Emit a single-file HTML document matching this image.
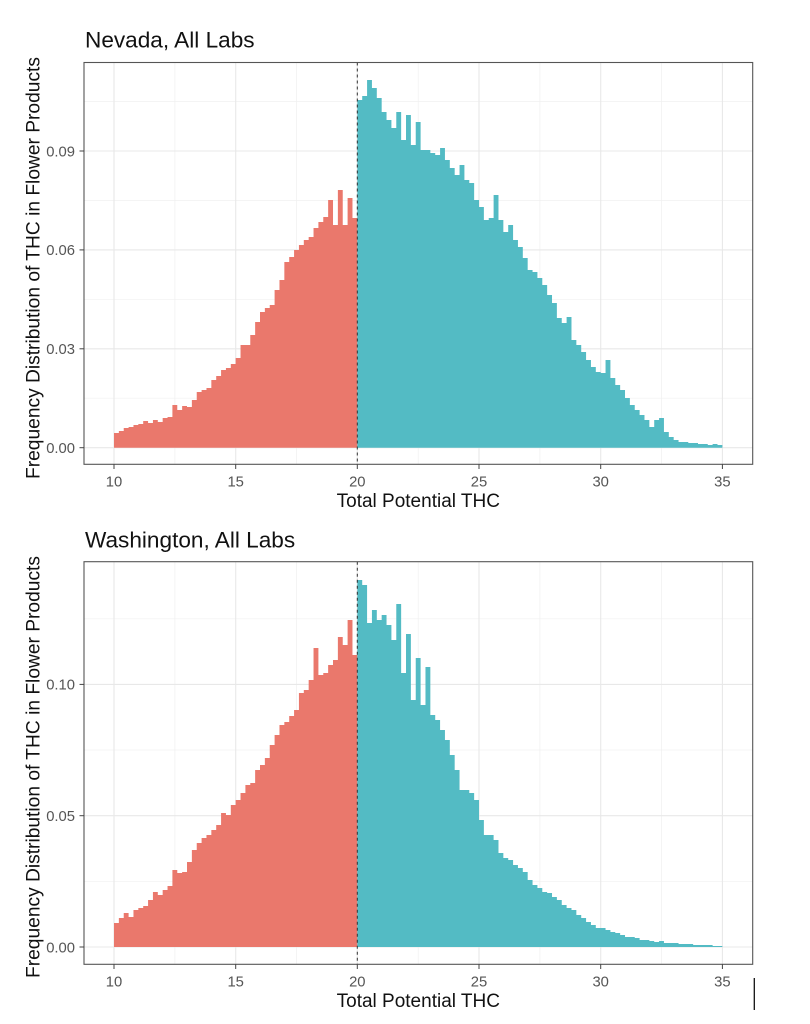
<!DOCTYPE html>
<html><head><meta charset="utf-8"><style>
html,body{margin:0;padding:0;background:#fff;}
svg{display:block;}
text{font-family:"Liberation Sans",Arial,sans-serif;}
</style></head><body>
<svg width="810" height="1024" viewBox="0 0 810 1024" xmlns="http://www.w3.org/2000/svg">
<rect width="810" height="1024" fill="#fff"/>

<!-- ===== TOP PANEL ===== -->
<g>
<rect x="84" y="62.5" width="668.7" height="401.8" fill="#fff"/>
<g stroke="#f0f0f0" stroke-width="0.7">
<line x1="174.9" y1="62.5" x2="174.9" y2="464.3"/><line x1="296.5" y1="62.5" x2="296.5" y2="464.3"/>
<line x1="418.2" y1="62.5" x2="418.2" y2="464.3"/><line x1="539.9" y1="62.5" x2="539.9" y2="464.3"/>
<line x1="661.5" y1="62.5" x2="661.5" y2="464.3"/>
<line x1="84" y1="398.2" x2="752.7" y2="398.2"/><line x1="84" y1="299.3" x2="752.7" y2="299.3"/>
<line x1="84" y1="200.4" x2="752.7" y2="200.4"/><line x1="84" y1="101.5" x2="752.7" y2="101.5"/>
</g>
<g stroke="#e8e8e8" stroke-width="1.1">
<line x1="114" y1="62.5" x2="114" y2="464.3"/><line x1="235.7" y1="62.5" x2="235.7" y2="464.3"/>
<line x1="357.3" y1="62.5" x2="357.3" y2="464.3"/><line x1="479" y1="62.5" x2="479" y2="464.3"/>
<line x1="600.7" y1="62.5" x2="600.7" y2="464.3"/><line x1="722.4" y1="62.5" x2="722.4" y2="464.3"/>
<line x1="84" y1="447.7" x2="752.7" y2="447.7"/><line x1="84" y1="348.8" x2="752.7" y2="348.8"/>
<line x1="84" y1="249.9" x2="752.7" y2="249.9"/><line x1="84" y1="151" x2="752.7" y2="151"/>
</g>
<g transform="translate(114,0) scale(4.8668,1)">
<path fill="#EA786C" d="M0,447.7 V433 H1 V431 H2 V428 H3 V427 H4 V425 H5 V424 H6 V421 H7 V423 H8 V420 H9 V422 H10 V418 H11 V417 H12 V405 H13 V410 H14 V406 H15 V407 H16 V400 H17 V392 H18 V390 H19 V388 H20 V380 H21 V376 H22 V370 H23 V368 H24 V364 H25 V358 H26 V345 H27 V345 H28 V335 H29 V322 H30 V312 H31 V308 H32 V305 H33 V290 H34 V280 H35 V262 H36 V257 H37 V250 H38 V245 H39 V240 H40 V237 H41 V228 H42 V222 H43 V217 H44 V200 H45 V225 H46 V190 H47 V225 H48 V198 H49 V218 H50 V447.7 Z"/>
</g>
<g transform="translate(357.34,0) scale(4.8668,1)">
<path fill="#53BBC4" d="M0,447.7 V100 H1 V96 H2 V80 H3 V88 H4 V98 H5 V112 H6 V120 H7 V128 H8 V112 H9 V140 H10 V115 H11 V145 H12 V122 H13 V150 H14 V150 H15 V153 H16 V155 H17 V148 H18 V160 H19 V168 H20 V175 H21 V165 H22 V180 H23 V183 H24 V200 H25 V207 H26 V220 H27 V218 H28 V195 H29 V220 H30 V232 H31 V225 H32 V240 H33 V247 H34 V258 H35 V270 H36 V272 H37 V278 H38 V285 H39 V295 H40 V303 H41 V318 H42 V323 H43 V317 H44 V340 H45 V345 H46 V352 H47 V360 H48 V367 H49 V372 H50 V373 H51 V360 H52 V378 H53 V385 H54 V390 H55 V398 H56 V405 H57 V410 H58 V415 H59 V420 H60 V427 H61 V420 H62 V418 H63 V432 H64 V437 H65 V440 H66 V442 H67 V442 H68 V443 H69 V443 H70 V444 H71 V444 H72 V445 H73 V444 H74 V445 H75 V447.7 Z"/>
</g>
<line x1="357.3" y1="62.5" x2="357.3" y2="464.3" stroke="#333" stroke-width="1" stroke-dasharray="3,3"/>
<rect x="84" y="62.5" width="668.7" height="401.8" fill="none" stroke="#555" stroke-width="1.1"/>
<g stroke="#444" stroke-width="1">
<line x1="79.5" y1="447.7" x2="84" y2="447.7"/><line x1="79.5" y1="348.8" x2="84" y2="348.8"/>
<line x1="79.5" y1="249.9" x2="84" y2="249.9"/><line x1="79.5" y1="151" x2="84" y2="151"/>
<line x1="114" y1="464.3" x2="114" y2="469" /><line x1="235.7" y1="464.3" x2="235.7" y2="469"/>
<line x1="357.3" y1="464.3" x2="357.3" y2="469"/><line x1="479" y1="464.3" x2="479" y2="469"/>
<line x1="600.7" y1="464.3" x2="600.7" y2="469"/><line x1="722.4" y1="464.3" x2="722.4" y2="469"/>
</g>
<g fill="#555" font-size="14.8" text-anchor="end">
<text x="75" y="453">0.00</text><text x="75" y="354.1">0.03</text>
<text x="75" y="255.2">0.06</text><text x="75" y="156.3">0.09</text>
</g>
<g fill="#555" font-size="14.8" text-anchor="middle">
<text x="114" y="486.5">10</text><text x="235.7" y="486.5">15</text><text x="357.3" y="486.5">20</text>
<text x="479" y="486.5">25</text><text x="600.7" y="486.5">30</text><text x="722.4" y="486.5">35</text>
</g>
<text x="418.3" y="507" font-size="19" text-anchor="middle" fill="#111">Total Potential THC</text>
<text x="85" y="47.3" font-size="22.6" fill="#111">Nevada, All Labs</text>
<text transform="translate(39.5,268) rotate(-90)" font-size="19.2" text-anchor="middle" fill="#111">Frequency Distribution of THC in Flower Products</text>
</g>

<!-- ===== BOTTOM PANEL ===== -->
<g>
<rect x="84" y="561.7" width="668.7" height="402.6" fill="#fff"/>
<g stroke="#f0f0f0" stroke-width="0.7">
<line x1="174.9" y1="561.7" x2="174.9" y2="964.3"/><line x1="296.5" y1="561.7" x2="296.5" y2="964.3"/>
<line x1="418.2" y1="561.7" x2="418.2" y2="964.3"/><line x1="539.9" y1="561.7" x2="539.9" y2="964.3"/>
<line x1="661.5" y1="561.7" x2="661.5" y2="964.3"/>
<line x1="84" y1="881.3" x2="752.7" y2="881.3"/><line x1="84" y1="750" x2="752.7" y2="750"/>
<line x1="84" y1="618.8" x2="752.7" y2="618.8"/>
</g>
<g stroke="#e8e8e8" stroke-width="1.1">
<line x1="114" y1="561.7" x2="114" y2="964.3"/><line x1="235.7" y1="561.7" x2="235.7" y2="964.3"/>
<line x1="357.3" y1="561.7" x2="357.3" y2="964.3"/><line x1="479" y1="561.7" x2="479" y2="964.3"/>
<line x1="600.7" y1="561.7" x2="600.7" y2="964.3"/><line x1="722.4" y1="561.7" x2="722.4" y2="964.3"/>
<line x1="84" y1="947" x2="752.7" y2="947"/><line x1="84" y1="815.7" x2="752.7" y2="815.7"/>
<line x1="84" y1="684.4" x2="752.7" y2="684.4"/>
</g>
<g transform="translate(114,0) scale(4.8668,1)">
<path fill="#EA786C" d="M0,947 V923 H1 V918 H2 V913 H3 V917 H4 V910 H5 V908 H6 V906 H7 V900 H8 V892 H9 V895 H10 V890 H11 V886 H12 V870 H13 V873 H14 V872 H15 V862 H16 V850 H17 V843 H18 V838 H19 V835 H20 V830 H21 V825 H22 V813 H23 V815 H24 V805 H25 V800 H26 V793 H27 V785 H28 V783 H29 V770 H30 V765 H31 V758 H32 V745 H33 V735 H34 V725 H35 V722 H36 V716 H37 V710 H38 V693 H39 V690 H40 V680 H41 V648 H42 V675 H43 V673 H44 V665 H45 V660 H46 V637 H47 V645 H48 V620 H49 V655 H50 V947 Z"/>
</g>
<g transform="translate(357.34,0) scale(4.8668,1)">
<path fill="#53BBC4" d="M0,947 V580 H1 V585 H2 V623 H3 V610 H4 V620 H5 V615 H6 V625 H7 V640 H8 V604 H9 V673 H10 V634 H11 V700 H12 V658 H13 V705 H14 V667 H15 V715 H16 V720 H17 V730 H18 V740 H19 V755 H20 V770 H21 V790 H22 V790 H23 V793 H24 V800 H25 V820 H26 V835 H27 V835 H28 V840 H29 V853 H30 V858 H31 V860 H32 V865 H33 V868 H34 V872 H35 V880 H36 V885 H37 V888 H38 V892 H39 V893 H40 V897 H41 V900 H42 V905 H43 V908 H44 V910 H45 V915 H46 V918 H47 V922 H48 V925 H49 V928 H50 V928 H51 V930 H52 V932 H53 V933 H54 V935 H55 V937 H56 V937 H57 V938 H58 V940 H59 V940 H60 V941 H61 V942 H62 V941 H63 V943 H64 V943 H65 V943 H66 V944 H67 V944 H68 V944 H69 V945 H70 V945 H71 V945 H72 V945 H73 V946 H74 V946 H75 V947 Z"/>
</g>
<line x1="357.3" y1="561.7" x2="357.3" y2="964.3" stroke="#333" stroke-width="1" stroke-dasharray="3,3"/>
<rect x="84" y="561.7" width="668.7" height="402.6" fill="none" stroke="#555" stroke-width="1.1"/>
<g stroke="#444" stroke-width="1">
<line x1="79.5" y1="947" x2="84" y2="947"/><line x1="79.5" y1="815.7" x2="84" y2="815.7"/>
<line x1="79.5" y1="684.4" x2="84" y2="684.4"/>
<line x1="114" y1="964.3" x2="114" y2="969"/><line x1="235.7" y1="964.3" x2="235.7" y2="969"/>
<line x1="357.3" y1="964.3" x2="357.3" y2="969"/><line x1="479" y1="964.3" x2="479" y2="969"/>
<line x1="600.7" y1="964.3" x2="600.7" y2="969"/><line x1="722.4" y1="964.3" x2="722.4" y2="969"/>
</g>
<g fill="#555" font-size="14.8" text-anchor="end">
<text x="75" y="952.3">0.00</text><text x="75" y="821">0.05</text><text x="75" y="689.7">0.10</text>
</g>
<g fill="#555" font-size="14.8" text-anchor="middle">
<text x="114" y="986.5">10</text><text x="235.7" y="986.5">15</text><text x="357.3" y="986.5">20</text>
<text x="479" y="986.5">25</text><text x="600.7" y="986.5">30</text><text x="722.4" y="986.5">35</text>
</g>
<text x="418.3" y="1007" font-size="19" text-anchor="middle" fill="#111">Total Potential THC</text>
<text x="85" y="547.3" font-size="22.6" fill="#111">Washington, All Labs</text>
<text transform="translate(39.5,767) rotate(-90)" font-size="19.2" text-anchor="middle" fill="#111">Frequency Distribution of THC in Flower Products</text>
</g>

<line x1="754.3" y1="978" x2="754.3" y2="1010" stroke="#111" stroke-width="1.3"/>
</svg>
</body></html>
